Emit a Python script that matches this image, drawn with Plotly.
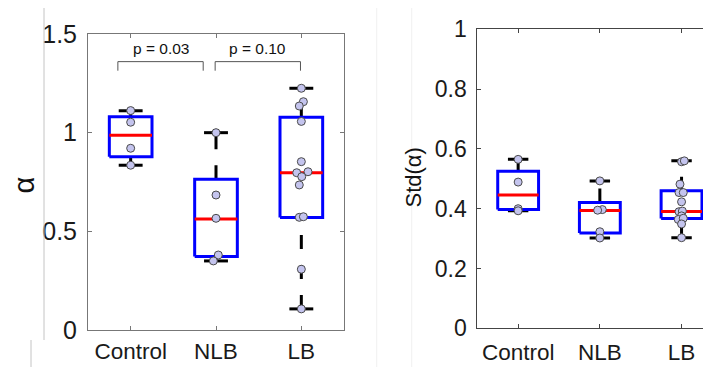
import plotly.graph_objects as go

# ---------------- data ----------------
categories = ["Control", "NLB", "LB"]
positions = [1, 2, 3]

# alpha panel: individual points and horizontal jitter offsets
alpha_control = [1.112, 1.053, 0.921, 0.835]
alpha_control_dx = [0, 0, 0, 0]
alpha_nlb = [1.0, 0.684, 0.566, 0.380, 0.350]
alpha_nlb_dx = [0, 0, 0, 0.027, -0.031]
alpha_lb = [1.225, 1.157, 1.135, 1.057, 0.853, 0.797, 0.802, 0.777, 0.735, 0.571, 0.574, 0.308, 0.107]
alpha_lb_dx = [0, 0.024, -0.024, 0, 0, -0.054, 0.078, 0.005, -0.024, -0.024, 0.024, 0, 0]

# alpha box statistics
alpha_lo = [0.835, 0.350, 0.107]
alpha_q1 = [0.878, 0.372, 0.570]
alpha_med = [0.987, 0.563, 0.797]
alpha_q3 = [1.081, 0.764, 1.078]
alpha_hi = [1.111, 1.0, 1.225]

# Std(alpha) panel
std_control = [0.565, 0.489, 0.400, 0.393]
std_control_dx = [0, 0, 0, 0]
std_nlb = [0.493, 0.397, 0.395, 0.323, 0.302]
std_nlb_dx = [0, 0.03, -0.027, 0, 0]
std_lb = [0.557, 0.560, 0.482, 0.454, 0.454, 0.423, 0.390, 0.392, 0.376, 0.364, 0.368, 0.349, 0.303]
std_lb_dx = [0, 0.034, -0.019, -0.031, 0.021, 0, -0.031, 0.01, 0, -0.04, 0.021, 0, 0]

std_lo = [0.393, 0.302, 0.303]
std_q1 = [0.397, 0.319, 0.367]
std_med = [0.446, 0.394, 0.391]
std_q3 = [0.525, 0.421, 0.460]
std_hi = [0.565, 0.493, 0.560]

# significance brackets (left panel)
bracket_x0 = [0.85, 1.99]
bracket_x1 = [1.85, 2.99]
bracket_ytop = [1.36, 1.36]
bracket_ybot = [1.314, 1.314]
bracket_text = ["p = 0.03", "p = 0.10"]
bracket_text_y = [1.425, 1.425]

# ---------------- figure ----------------
W, H = 711, 367
OFF = 8  # page body margin: the figure sits 8px right/down in the window


def px(xw):
    return (xw - OFF) / W


def py(yw):
    return 1 - (yw - OFF) / H


fig = go.Figure()

FONT = "Liberation Sans, Arial, sans-serif"
BOX_W = 0.25
WHISK_DASH = "14px,16px"


def add_panel(xa, ya, lo, q1, med, q3, hi, pts, dxs, cap_w):
    for i, p in enumerate(positions):
        # whiskers (drawn upward, starting with a dash)
        for y0, y1 in [(lo[i], q1[i]), (q3[i], hi[i])]:
            fig.add_trace(go.Scatter(x=[p, p], y=[y0, y1], mode="lines", xaxis=xa, yaxis=ya,
                                     line=dict(color="black", width=3, dash=WHISK_DASH),
                                     hoverinfo="skip"))
        # caps
        for yv in [lo[i], hi[i]]:
            fig.add_trace(go.Scatter(x=[p - cap_w, p + cap_w], y=[yv, yv], mode="lines",
                                     xaxis=xa, yaxis=ya, line=dict(color="black", width=3),
                                     hoverinfo="skip"))
        # box
        fig.add_trace(go.Scatter(x=[p - BOX_W, p + BOX_W, p + BOX_W, p - BOX_W, p - BOX_W],
                                 y=[q1[i], q1[i], q3[i], q3[i], q1[i]], mode="lines",
                                 xaxis=xa, yaxis=ya, line=dict(color="#0000ff", width=3),
                                 hoverinfo="skip"))
        # median
        fig.add_trace(go.Scatter(x=[p - BOX_W, p + BOX_W], y=[med[i], med[i]], mode="lines",
                                 xaxis=xa, yaxis=ya, line=dict(color="#ff0000", width=3),
                                 hoverinfo="skip"))
    for p, ys, dx in zip(positions, pts, dxs):
        fig.add_trace(go.Scatter(x=[p + d for d in dx], y=ys, mode="markers", xaxis=xa, yaxis=ya,
                                 marker=dict(size=8, color="#c4c4ee",
                                             line=dict(color="#4a4a4a", width=1)),
                                 hoverinfo="skip"))


add_panel("x", "y", alpha_lo, alpha_q1, alpha_med, alpha_q3, alpha_hi,
          [alpha_control, alpha_nlb, alpha_lb], [alpha_control_dx, alpha_nlb_dx, alpha_lb_dx], 0.14)
add_panel("x2", "y2", std_lo, std_q1, std_med, std_q3, std_hi,
          [std_control, std_nlb, std_lb], [std_control_dx, std_nlb_dx, std_lb_dx], 0.125)

# brackets
for x0, x1, yt, yb in zip(bracket_x0, bracket_x1, bracket_ytop, bracket_ybot):
    fig.add_trace(go.Scatter(x=[x0, x0, x1, x1], y=[yb, yt, yt, yb], mode="lines",
                             xaxis="x", yaxis="y", line=dict(color="#555555", width=1),
                             hoverinfo="skip"))

annotations = []
for x0, x1, t, ty in zip(bracket_x0, bracket_x1, bracket_text, bracket_text_y):
    annotations.append(dict(x=(x0 + x1) / 2, y=ty, xref="x", yref="y", text=t, showarrow=False,
                            xanchor="center", yanchor="middle",
                            font=dict(family=FONT, size=15.5, color="#111111")))

annotations.append(dict(x=px(23.5), y=py(185), xref="paper", yref="paper", text="α",
                        textangle=-90, showarrow=False, xanchor="center", yanchor="middle",
                        font=dict(family=FONT, size=29, color="#111111")))
annotations.append(dict(x=px(413), y=py(177.5), xref="paper", yref="paper", text="Std(α)",
                        textangle=-90, showarrow=False, xanchor="center", yanchor="middle",
                        font=dict(family=FONT, size=22, color="#111111")))

shapes = [
    dict(type="line", xref="paper", yref="paper", x0=px(44), x1=px(44),
         y0=py(340), y1=py(0), line=dict(color="#c4c4c4", width=1)),
    dict(type="line", xref="paper", yref="paper", x0=px(31), x1=px(31),
         y0=py(367), y1=py(340), line=dict(color="#c4c4c4", width=1)),
    dict(type="line", xref="paper", yref="paper", x0=px(376.7), x1=px(376.7),
         y0=py(367), y1=py(0), line=dict(color="#f0f0f0", width=1)),
    dict(type="line", xref="paper", yref="paper", x0=px(411.7), x1=px(411.7),
         y0=py(367), y1=py(0), line=dict(color="#f0f0f0", width=1)),
]

axis_common = dict(showgrid=False, zeroline=False, showline=True, ticks="inside", ticklen=4,
                   tickwidth=1, fixedrange=True, automargin=False)

fig.update_layout(
    template="none",
    width=W, height=H, margin=dict(l=0, r=0, t=0, b=0, pad=0), autosize=False,
    paper_bgcolor="white", plot_bgcolor="white", showlegend=False,
    font=dict(family=FONT, color="#222222"),
    annotations=annotations, shapes=shapes,
    xaxis=dict(domain=[px(88), px(344)], range=[0.5, 3.5], anchor="y",
               tickvals=positions, ticktext=categories, mirror="ticks",
               linecolor="#777777", tickcolor="#777777", ticklabelstandoff=1,
               tickfont=dict(family=FONT, size=22.5, color="#1a1a1a"), **axis_common),
    yaxis=dict(domain=[py(330), py(34)], range=[0, 1.5], anchor="x",
               tickvals=[0, 0.5, 1, 1.5], ticktext=["0", "0.5", "1", "1.5"], mirror="ticks",
               linecolor="#777777", tickcolor="#777777", ticklabelstandoff=5,
               tickfont=dict(family=FONT, size=25, color="#1a1a1a"), **axis_common),
    xaxis2=dict(domain=[px(477.3), px(711)], range=[0.5, 0.5 + (711 - 477.3) / 81.7], anchor="y2",
                tickvals=positions, ticktext=categories, mirror="ticks",
                linecolor="#444444", tickcolor="#444444", ticklabelstandoff=4,
                tickfont=dict(family=FONT, size=22.5, color="#1a1a1a"), **axis_common),
    yaxis2=dict(domain=[py(328.3), py(29.3)], range=[0, 1], anchor="x2",
                tickvals=[0, 0.2, 0.4, 0.6, 0.8, 1], ticktext=["0", "0.2", "0.4", "0.6", "0.8", "1"],
                mirror=False, linecolor="#444444", tickcolor="#444444", ticklabelstandoff=5,
                tickfont=dict(family=FONT, size=23, color="#1a1a1a"), **axis_common),
)

fig.write_html("out.html")
